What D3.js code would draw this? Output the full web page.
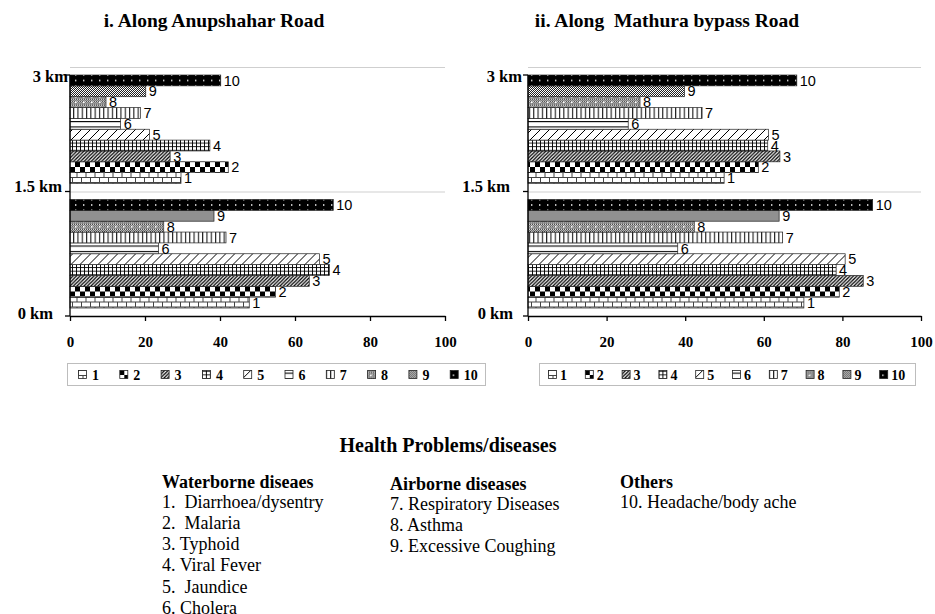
<!DOCTYPE html>
<html>
<head>
<meta charset="utf-8">
<script src="https://cdn.jsdelivr.net/npm/d3@7"></script>
<style>
	body{margin:0;background:#fff}
	svg{display:block}
	text{white-space:pre}
</style>
</head>
<body>
<svg id="chart" width="935" height="614"></svg>
<script>
// disease codes, bottom to top inside each group
var diseases = ["1","2","3","4","5","6","7","8","9","10"]
var distances = ["0 km","1.5 km"]
var yLabels = ["0 km","1.5 km","3 km"]
var xTicks = [0,20,40,60,80,100]

// % of respondents
var anupshahar0 = [47.8, 54.8, 63.8, 69.2, 66.5, 23.6, 41.6, 25, 38.4, 70.2]
var anupshahar15 = [29.6, 42.2, 26.7, 37.3, 21.2, 13.5, 18.8, 9.6, 20.2, 40.2]
var mathura0 = [70.2, 79.2, 85.3, 78.4, 80.7, 38.1, 64.8, 42.3, 63.9, 87.7]
var mathura15 = [49.9, 58.6, 64.1, 61.0, 61.2, 25.5, 44.3, 28.5, 39.8, 68.4]

var waterborne = ["1.  Diarrhoea/dysentry","2.  Malaria","3. Typhoid","4. Viral Fever","5.  Jaundice","6. Cholera"]
var airborne = ["7. Respiratory Diseases","8. Asthma","9. Excessive Coughing"]
var others = ["10. Headache/body ache"]

var serif = "'Liberation Serif','Times New Roman',serif"
var sans = "'Liberation Sans',Arial,sans-serif"

var svg = d3.select("#chart")
var defs = svg.append("defs")

function pattern(id,w,h,bg,draw){
	var p = defs.append("pattern")
		.attr("id",id)
		.attr("patternUnits","userSpaceOnUse")
		.attr("width",w)
		.attr("height",h)
	p.append("rect").attr("width",w).attr("height",h).attr("fill",bg)
	draw(p)
}
function line(p,d,w,c){
	p.append("path").attr("d",d).attr("stroke",c||"#000").attr("stroke-width",w).attr("fill","none")
}

// 1 brick
pattern("p1",9,10,"#fff",p=>{
	line(p,"M0,0.5H9M0,5.5H9M0.5,0.5V5.5M5,5.5V10",1,"#444")
})
// 2 checker
pattern("p2",10,10,"#fff",p=>{
	p.append("rect").attr("width",5).attr("height",5).attr("fill","#000")
	p.append("rect").attr("x",5).attr("y",5).attr("width",5).attr("height",5).attr("fill","#000")
})
// 3 dense diagonal
pattern("p3",3.5,3.5,"#fff",p=>{
	line(p,"M-1,1L1,-1M0,3.5L3.5,0M2.5,4.5L4.5,2.5",1.3)
})
// 4 small grid
pattern("p4",4,3.6,"#fff",p=>{
	line(p,"M0.5,0V3.6M0,0.5H4",0.9)
})
// 5 wide diagonal
pattern("p5",9,9,"#fff",p=>{
	line(p,"M0,9L9,0M-1,1L1,-1M8,10L10,8",1)
})
// 6 horizontal lines
pattern("p6",4,5.4,"#fff",p=>{
	line(p,"M0,0.5H4",1.2)
})
// 7 vertical lines
pattern("p7",4.3,4,"#fff",p=>{
	line(p,"M0.6,0V4",1)
})
// 9 fine grey mesh
pattern("p9",2,2,"#fff",p=>{
	p.append("rect").attr("width",1).attr("height",1).attr("fill","#222")
	p.append("rect").attr("x",1).attr("y",1).attr("width",1).attr("height",1).attr("fill","#222")
})
// 8 grey mesh with white dots
pattern("p8",8,5.4,"#fff",p=>{
	p.append("rect").attr("width",8).attr("height",5.4).attr("fill","url(#p9)")
	p.append("rect").attr("x",3).attr("y",2).attr("width",1.6).attr("height",1.6).attr("fill","#fff")
})
// 10 black with white dots
pattern("p10",8,5.4,"#000",p=>{
	p.append("rect").attr("x",3).attr("y",2).attr("width",1.4).attr("height",1.4).attr("fill","#fff")
})

var charts = [
	{title:"i. Along Anupshahar Road", titleX:214, left:70, right:445, series:[anupshahar0,anupshahar15],
		labelDx:[17,8,2], legendX:67, legendW:418, legendFirst:78, legendStep:41.3, legendGap:14},
	{title:"ii. Along  Mathura bypass Road", titleX:667, left:528, right:921, series:[mathura0,mathura15],
		labelDx:[15,18,6], legendX:539, legendW:376, legendFirst:548, legendStep:36.8, legendGap:12}
]

var plotTop = 67, plotBottom = 316, pad = 8

charts.forEach(function(c){
	var g = svg.append("g")
	var x = d3.scaleLinear().domain([0,100]).range([c.left,c.right])
	var y = d3.scaleBand().domain(distances).range([plotBottom,plotTop])
	var yi = d3.scaleBand().domain(diseases).range([y.bandwidth()-pad,pad])

	g.append("text")
		.attr("x",c.titleX).attr("y",27)
		.attr("text-anchor","middle")
		.attr("font-family",serif).attr("font-weight","bold").attr("font-size",19.5)
		.text(c.title)

	// gridlines at top of each band
	g.selectAll(".grid").data(distances).enter().append("line")
		.attr("x1",c.left).attr("x2",c.right)
		.attr("y1",d=>y(d)+0.5).attr("y2",d=>y(d)+0.5)
		.attr("stroke","#cfcfcf").attr("stroke-width",1)

	distances.forEach(function(dist,gi){
		var vals = c.series[gi]
		var grp = g.append("g").attr("transform","translate(0,"+y(dist)+")")
		grp.selectAll("rect").data(diseases).enter().append("rect")
			.attr("x",x(0))
			.attr("y",d=>yi(d))
			.attr("width",(d,i)=>x(vals[i])-x(0))
			.attr("height",yi.bandwidth())
			.attr("fill",d=>"url(#p"+d+")")
			.attr("stroke","#222").attr("stroke-width",0.7)
		grp.selectAll("text").data(diseases).enter().append("text")
			.attr("x",(d,i)=>x(vals[i])+3)
			.attr("y",d=>yi(d)+yi.bandwidth()/2)
			.attr("dy","0.36em")
			.attr("font-family",sans).attr("font-size",14.5)
			.text(d=>d)
	})

	// x axis
	var xa = g.append("g")
		.attr("transform","translate(0,"+plotBottom+")")
		.call(d3.axisBottom(x).tickValues(xTicks).tickSize(5).tickSizeOuter(0).tickPadding(15))
	xa.select(".domain").attr("stroke","#000").attr("stroke-width",1.3)
	xa.selectAll(".tick line").attr("stroke","#000").attr("stroke-width",1.3)
	xa.selectAll(".tick text")
		.attr("font-family",serif).attr("font-weight","bold").attr("font-size",15).attr("fill","#000")

	// y axis, ticks on band edges
	var yTicks = [plotBottom, y(distances[0]), y(distances[1])+pad]
	var labelOff = [3, 0, 7]
	g.append("line")
		.attr("x1",x(0)).attr("x2",x(0))
		.attr("y1",yTicks[0]).attr("y2",yTicks[2])
		.attr("stroke","#000").attr("stroke-width",1.3)
	g.selectAll(".ytick").data(yTicks).enter().append("line")
		.attr("x1",x(0)-5).attr("x2",x(0))
		.attr("y1",d=>d).attr("y2",d=>d)
		.attr("stroke","#000").attr("stroke-width",1.3)
	g.selectAll(".ylab").data(yLabels).enter().append("text")
		.attr("x",(d,i)=>x(0)-c.labelDx[i])
		.attr("y",(d,i)=>yTicks[i]+labelOff[i])
		.attr("text-anchor","end")
		.attr("font-family",serif).attr("font-weight","bold").attr("font-size",16.5)
		.text(d=>d)

	// legend
	g.append("rect")
		.attr("x",c.legendX+0.5).attr("y",363.5)
		.attr("width",c.legendW).attr("height",22)
		.attr("fill","none").attr("stroke","#bdbdbd")
	var li = g.selectAll(".leg").data(diseases).enter().append("g")
		.attr("transform",(d,i)=>"translate("+(c.legendFirst+i*c.legendStep)+",0)")
	li.append("rect")
		.attr("x",0.5).attr("y",370.5).attr("width",8).attr("height",8)
		.attr("fill",d=>"url(#p"+d+")")
		.attr("stroke","#222").attr("stroke-width",0.8)
	li.append("text")
		.attr("x",c.legendGap).attr("y",380)
		.attr("font-family",serif).attr("font-weight","bold").attr("font-size",14)
		.text(d=>d)
})

// key of health problems
svg.append("text")
	.attr("x",448).attr("y",452)
	.attr("text-anchor","middle")
	.attr("font-family",serif).attr("font-weight","bold").attr("font-size",20)
	.text("Health Problems/diseases")

var columns = [
	{head:"Waterborne diseaes", items:waterborne, x:162, y:488},
	{head:"Airborne diseases", items:airborne, x:390, y:490},
	{head:"Others", items:others, x:620, y:488}
]
columns.forEach(function(col){
	svg.append("text")
		.attr("x",col.x).attr("y",col.y)
		.attr("font-family",serif).attr("font-weight","bold").attr("font-size",18)
		.text(col.head)
	svg.selectAll(null).data(col.items).enter().append("text")
		.attr("x",col.x).attr("y",(d,i)=>col.y+19.5+i*21.3)
		.attr("font-family",serif).attr("font-size",18)
		.text(d=>d)
})
</script>
</body>
</html>
